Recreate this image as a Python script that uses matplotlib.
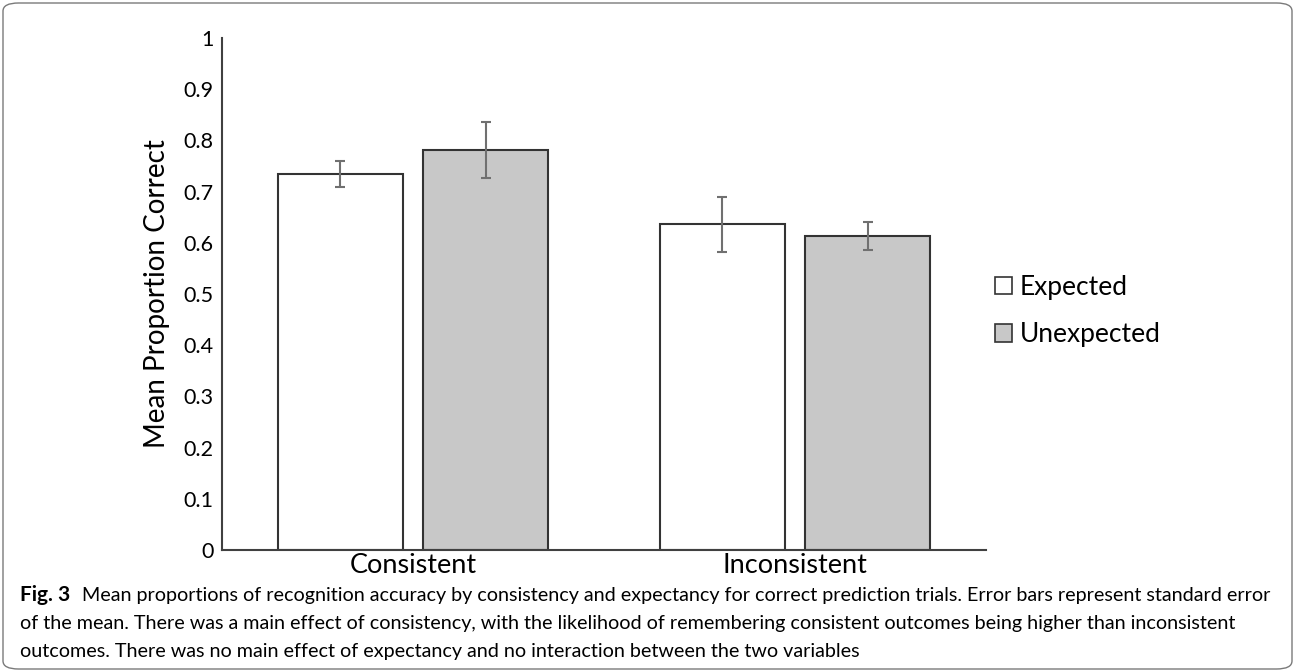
import matplotlib
matplotlib.use("Agg")
import matplotlib.pyplot as plt
from matplotlib.patches import FancyBboxPatch, Patch
import numpy as np

categories = ["Consistent", "Inconsistent"]
series_names = ["Expected", "Unexpected"]
expected_vals = [0.734, 0.636]
unexpected_vals = [0.781, 0.613]
expected_se = [0.025, 0.054]
unexpected_se = [0.054, 0.027]
yticks = [0, 0.1, 0.2, 0.3, 0.4, 0.5, 0.6, 0.7, 0.8, 0.9, 1]
ytick_labels = ["0", "0.1", "0.2", "0.3", "0.4", "0.5", "0.6", "0.7", "0.8", "0.9", "1"]
caption_bold = "Fig. 3"
caption_lines = [
    "Mean proportions of recognition accuracy by consistency and expectancy for correct prediction trials. Error bars represent standard error",
    "of the mean. There was a main effect of consistency, with the likelihood of remembering consistent outcomes being higher than inconsistent",
    "outcomes. There was no main effect of expectancy and no interaction between the two variables",
]

plt.rcParams['font.family'] = ['Lato', 'DejaVu Sans']

fig = plt.figure(figsize=(12.95, 6.72), dpi=100)
ax = fig.add_axes([222/1295, 1-550/672, (986-222)/1295, (550-38)/672])

x = np.arange(len(categories))
w = 0.328
off = 0.19
ekw = dict(ecolor="#707070", elinewidth=1.5, capsize=3.8, capthick=1.5)
ax.bar(x - off, expected_vals, w, color="white", edgecolor="#333333", linewidth=1.5,
       yerr=expected_se, error_kw=ekw, label=series_names[0])
ax.bar(x + off, unexpected_vals, w, color="#c8c8c8", edgecolor="#333333", linewidth=1.5,
       yerr=unexpected_se, error_kw=ekw, label=series_names[1])

ax.set_xlim(-0.5, 1.5)
ax.set_ylim(0, 1)
ax.set_yticks(yticks)
ax.set_yticklabels(ytick_labels, fontsize=15.5)
ax.set_xticks(x)
ax.set_xticklabels(categories, fontsize=19.5)
ax.tick_params(axis='y', length=0, pad=6)
ax.tick_params(axis='x', length=0, pad=2)
for s in ["top", "right"]:
    ax.spines[s].set_visible(False)
for s in ["left", "bottom"]:
    ax.spines[s].set_color("#404040")
    ax.spines[s].set_linewidth(1.5)
ax.set_ylabel("Mean Proportion Correct", fontsize=20, labelpad=10)

handles = [Patch(facecolor="white", edgecolor="#333333", linewidth=1.2),
           Patch(facecolor="#c8c8c8", edgecolor="#333333", linewidth=1.2)]
fig.legend(handles, series_names, loc="center left",
           bbox_to_anchor=(995/1295, 1-311/672), frameon=False, fontsize=19,
           handlelength=0.65, handleheight=0.65, handletextpad=0.3, labelspacing=0.85,
           borderpad=0.0, borderaxespad=0.0)

# caption
fig.canvas.draw()
r = fig.canvas.get_renderer()
y0 = 1 - 595/672
dy = 28/672
bt = fig.text(20/1295, y0, caption_bold, fontsize=15, fontweight="bold", va="center", ha="left")
bb = bt.get_window_extent(r)
startx = (bb.x1 + 12) / 1295
t1 = fig.text(startx, y0, caption_lines[0], fontsize=12, va="center", ha="left")
wb = t1.get_window_extent(r)
target = 1267 - (bb.x1 + 12)
fs = 12 * target / wb.width
t1.set_fontsize(fs)
fig.text(20/1295, y0 - dy, caption_lines[1], fontsize=fs, va="center", ha="left")
fig.text(20/1295, y0 - 2*dy, caption_lines[2], fontsize=fs, va="center", ha="left")

border = FancyBboxPatch((3/1295, 3/672), 1 - 6/1295, 1 - 6/672,
                        boxstyle="round,pad=0,rounding_size=0.012",
                        transform=fig.transFigure, facecolor="none",
                        edgecolor="#7a7a7a", linewidth=1.0)
fig.patches.append(border)

fig.savefig("out.png", dpi=100)
